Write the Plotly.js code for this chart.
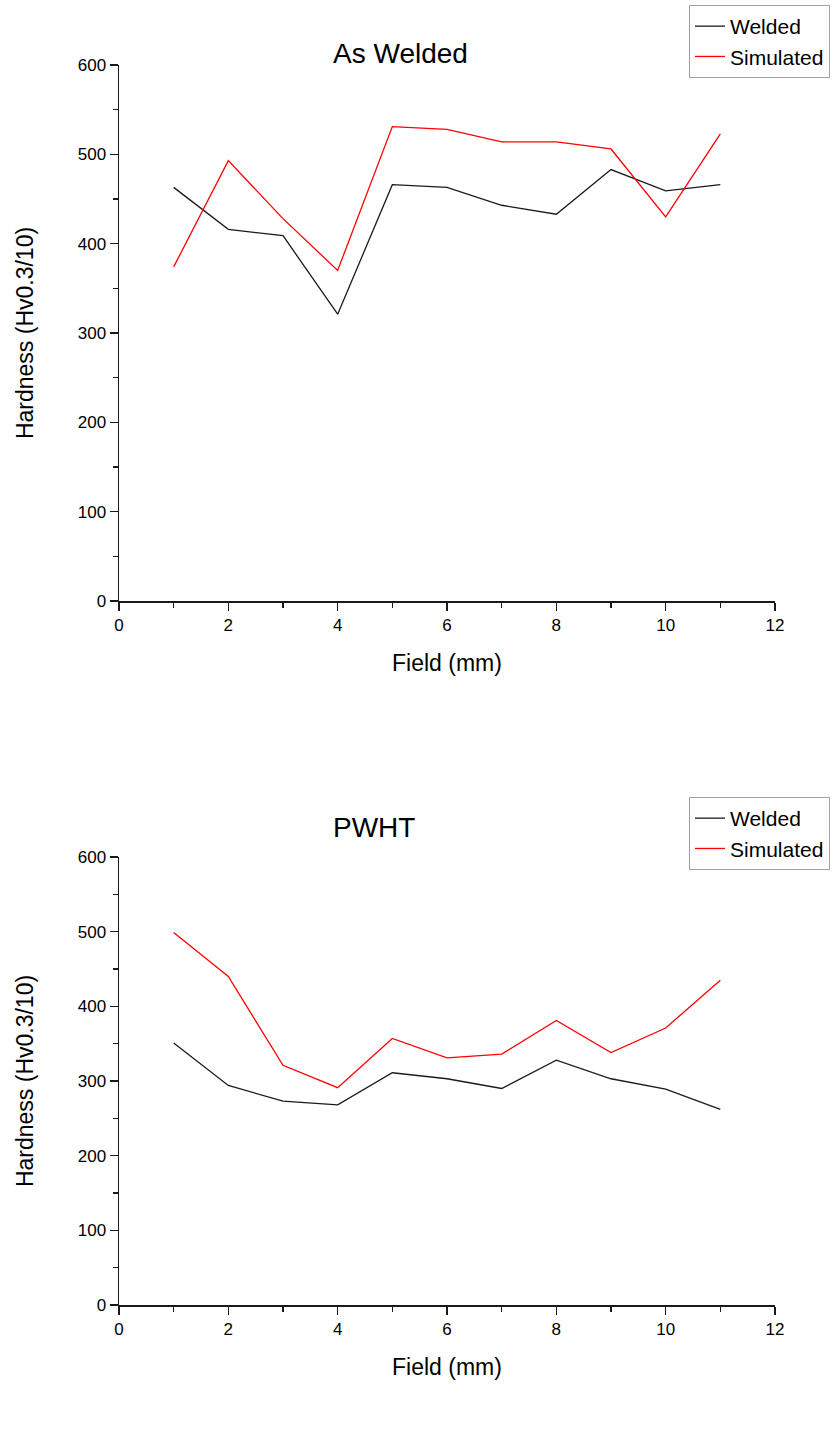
<!DOCTYPE html>
<html>
<head>
<meta charset="utf-8">
<script src="https://cdn.plot.ly/plotly-3.0.1.min.js"></script>
<style>html,body{margin:0;padding:0;background:#fff;}#chart{width:840px;height:1436px;}</style>
</head>
<body>
<div id="chart"></div>
<script>
// Data
const fieldMm = [1, 2, 3, 4, 5, 6, 7, 8, 9, 10, 11];
const asWeldedWelded    = [463, 416, 409, 321, 466, 463, 443, 433, 483, 459, 466];
const asWeldedSimulated = [374, 493, 428, 370, 531, 528, 514, 514, 506, 430, 523];
const pwhtWelded        = [351, 294, 273, 268, 311, 303, 290, 328, 303, 289, 262];
const pwhtSimulated     = [499, 440, 321, 291, 357, 331, 336, 381, 338, 371, 435];
const seriesNames = ['Welded', 'Simulated'];
const panelTitles = ['As Welded', 'PWHT'];
const xTitle = 'Field (mm)';
const yTitle = 'Hardness (Hv0.3/10)';

const W = 840, H = 1436;
const FONT = 'Liberation Sans, Arial, sans-serif';
const BLACK = '#1a1a1a', RED = '#ff0000';

function px2x(p) { return p / W; }
function py2y(p) { return 1 - p / H; }

const traces = [
  {x: fieldMm, y: asWeldedWelded, name: seriesNames[0], mode: 'lines', line: {color: BLACK, width: 1.3}, xaxis: 'x', yaxis: 'y', legend: 'legend'},
  {x: fieldMm, y: asWeldedSimulated, name: seriesNames[1], mode: 'lines', line: {color: RED, width: 1.3}, xaxis: 'x', yaxis: 'y', legend: 'legend'},
  {x: fieldMm, y: pwhtWelded, name: seriesNames[0], mode: 'lines', line: {color: BLACK, width: 1.3}, xaxis: 'x2', yaxis: 'y2', legend: 'legend2'},
  {x: fieldMm, y: pwhtSimulated, name: seriesNames[1], mode: 'lines', line: {color: RED, width: 1.3}, xaxis: 'x2', yaxis: 'y2', legend: 'legend2'}
];

function xAxis(anchor, dom) {
  return {
    anchor: anchor, domain: dom, range: [0, 12], dtick: 2, tick0: 0,
    showgrid: false, zeroline: false, showline: true, linecolor: BLACK, linewidth: 1.5,
    ticks: 'outside', ticklen: 8, tickwidth: 1.5, tickcolor: BLACK,
    minor: {ticks: 'outside', ticklen: 5, tickwidth: 1.5, tickcolor: BLACK, dtick: 1, showgrid: false},
    tickfont: {family: FONT, size: 17, color: '#000'},
    title: {text: xTitle, font: {family: FONT, size: 23, color: '#000'}, standoff: 21},
    automargin: false,
    fixedrange: true
  };
}
function yAxis(anchor, dom) {
  return {
    anchor: anchor, domain: dom, range: [0, 600], dtick: 100, tick0: 0,
    showgrid: false, zeroline: false, showline: true, linecolor: BLACK, linewidth: 1.5,
    ticks: 'outside', ticklen: 8, tickwidth: 1.5, tickcolor: BLACK,
    minor: {ticks: 'outside', ticklen: 5, tickwidth: 1.5, tickcolor: BLACK, dtick: 50, showgrid: false},
    tickfont: {family: FONT, size: 17, color: '#000'},
    title: {text: yTitle, font: {family: FONT, size: 23, color: '#000'}, standoff: 37},
    automargin: false,
    fixedrange: true
  };
}

const xDom = [px2x(119), px2x(775)];
const legendCommon = {
  xref: 'paper', yref: 'paper', xanchor: 'left', yanchor: 'top',
  bgcolor: '#ffffff', bordercolor: '#a0a0a0', borderwidth: 1,
  font: {family: FONT, size: 21, color: '#000'},
  tracegroupgap: 0, itemwidth: 30
};

const layout = {
  width: W, height: H,
  margin: {l: 0, r: 0, t: 0, b: 0, autoexpand: false},
  paper_bgcolor: '#fff', plot_bgcolor: '#fff',
  showlegend: true,
  font: {family: FONT, color: '#000'},
  xaxis: xAxis('y', xDom),
  yaxis: yAxis('x', [py2y(601), py2y(65)]),
  xaxis2: xAxis('y2', xDom),
  yaxis2: yAxis('x2', [py2y(1305), py2y(857)]),
  legend: Object.assign({}, legendCommon, {x: px2x(689), y: py2y(5)}),
  legend2: Object.assign({}, legendCommon, {x: px2x(689), y: py2y(797)}),
  annotations: [
    {text: panelTitles[0], xref: 'paper', yref: 'paper', x: px2x(400), y: py2y(54), xanchor: 'center', yanchor: 'middle', showarrow: false, font: {family: FONT, size: 28, color: '#000'}},
    {text: panelTitles[1], xref: 'paper', yref: 'paper', x: px2x(374), y: py2y(827), xanchor: 'center', yanchor: 'middle', showarrow: false, font: {family: FONT, size: 28, color: '#000'}}
  ]
};

Plotly.newPlot('chart', traces, layout, {displayModeBar: false, staticPlot: true});
</script>
</body>
</html>
